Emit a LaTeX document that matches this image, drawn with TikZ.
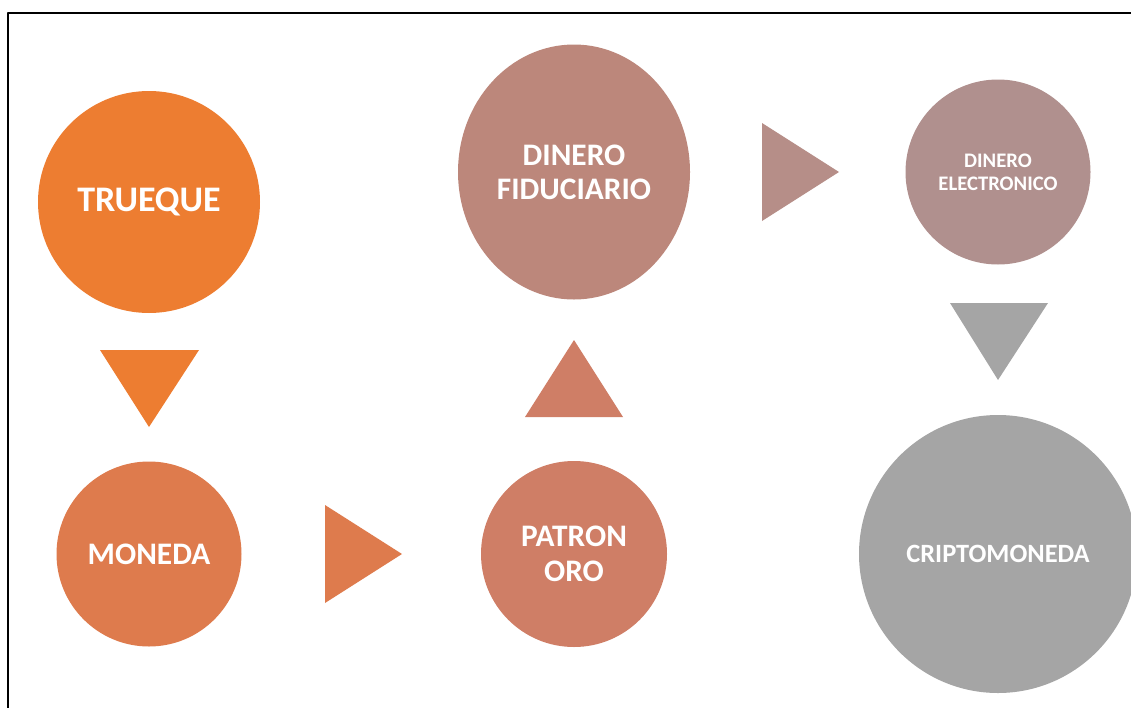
\documentclass[tikz,border=0pt]{standalone}
\usepackage{fontspec}
\setmainfont{Carlito}
\usetikzlibrary{shapes.geometric}
\definecolor{cTrueque}{HTML}{ED7D31}
\definecolor{cMoneda}{HTML}{DE7B4D}
\definecolor{cPatron}{HTML}{CF7E66}
\definecolor{cFiduc}{HTML}{BC877B}
\definecolor{cElectr}{HTML}{B0908E}
\definecolor{cFlechaE}{HTML}{B68E88}
\definecolor{cCripto}{HTML}{A5A5A5}
\tikzset{
  etapa/.style={circle, inner sep=0pt, text=white, align=center}
}
\begin{document}
\begin{tikzpicture}[x=0.75pt, y=-0.75pt, line join=round]
  \useasboundingbox (0,0) rectangle (1131,707);
  \draw[line width=1.5pt] (8,710) -- (8,13) -- (1134,13);
  % etapas
  \node[etapa, fill=cTrueque, minimum size=166.5pt, font=\bfseries\fontsize{27}{32}\selectfont] (trueque) at (149,202) {TRUEQUE};
  \node[etapa, fill=cMoneda, minimum size=138.75pt, font=\bfseries\fontsize{23.5}{26}\selectfont] (moneda) at (149,554) {MONEDA};
  \node[etapa, fill=cPatron, minimum size=139.5pt, font=\bfseries\fontsize{23.5}{26}\selectfont] (patron) at (574,554) {PATRON\\ORO};
  \node[etapa, ellipse, fill=cFiduc, minimum width=174pt, minimum height=191.25pt, font=\bfseries\fontsize{23.5}{25.5}\selectfont] (fiduciario) at (574,172) {DINERO\\FIDUCIARIO};
  \node[etapa, fill=cElectr, minimum size=138.75pt, font=\bfseries\fontsize{15.5}{17.5}\selectfont] (electronico) at (998,172) {DINERO\\ELECTRONICO};
  \node[etapa, fill=cCripto, minimum size=208.5pt, font=\bfseries\fontsize{19.8}{24}\selectfont] (cripto) at (998,554) {CRIPTOMONEDA};
  % flechas
  \fill[cTrueque] (100,350) -- (199,350) -- (149,427) -- cycle;
  \fill[cMoneda] (325,505) -- (402,554) -- (325,603) -- cycle;
  \fill[cPatron] (525,417) -- (574,340) -- (623,417) -- cycle;
  \fill[cFlechaE] (762,123) -- (839,172) -- (762,221) -- cycle;
  \fill[cCripto] (950,303) -- (1048,303) -- (998,380) -- cycle;
\end{tikzpicture}
\end{document}
